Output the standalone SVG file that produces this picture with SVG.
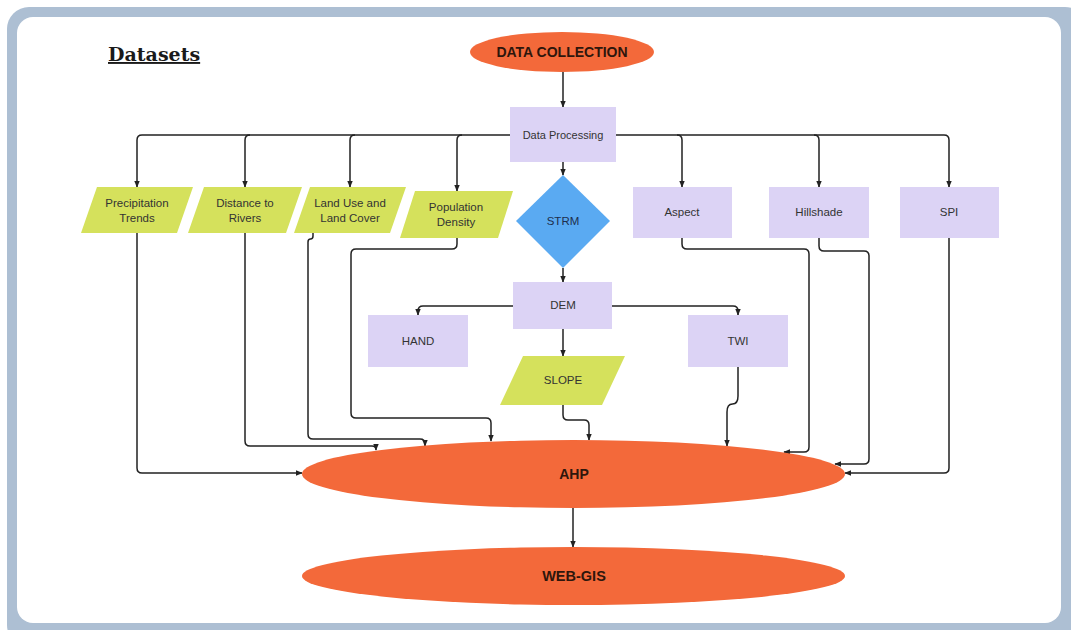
<svg xmlns="http://www.w3.org/2000/svg" width="1071" height="630" viewBox="0 0 1071 630">
<style>
.oval{fill:#f3693a}
.box{fill:#dcd3f5}
.para{fill:#d5e15c}
.t{font-family:"Liberation Sans",Arial,sans-serif;font-size:11.5px;fill:#333;text-anchor:middle;dominant-baseline:central}
.tb{font-family:"Liberation Sans",Arial,sans-serif;font-weight:bold;font-size:14px;fill:#2e160c;text-anchor:middle;dominant-baseline:central}
.c{fill:none;stroke:#222;stroke-width:1.5}
</style>
<defs>
<marker id="ah" viewBox="0 0 10 10" refX="9" refY="5" markerWidth="7" markerHeight="7" markerUnits="userSpaceOnUse" orient="auto">
<path d="M0,1 L10,5 L0,9 z" fill="#222"/>
</marker>
</defs>
<rect x="0" y="0" width="1071" height="630" fill="#ffffff"/>
<rect x="7" y="7" width="1080" height="640" rx="22" fill="#adbfd3"/>
<rect x="17" y="17" width="1044" height="606" rx="16" fill="#ffffff"/>
<text x="108" y="61" font-family="DejaVu Serif,serif" font-weight="bold" font-size="19" fill="#1a1a1a" text-decoration="underline">Datasets</text>

<g id="connectors">
<path class="c" marker-end="url(#ah)" d="M563,72 V107"/>
<path class="c" marker-end="url(#ah)" d="M510,135 H142 Q137,135 137,140 V187"/>
<path class="c" marker-end="url(#ah)" d="M250,135 Q245,135 245,140 V187"/>
<path class="c" marker-end="url(#ah)" d="M355,135 Q350,135 350,140 V187"/>
<path class="c" marker-end="url(#ah)" d="M462,135 Q457,135 457,140 V191"/>
<path class="c" marker-end="url(#ah)" d="M616,135 H944 Q949,135 949,140 V187"/>
<path class="c" marker-end="url(#ah)" d="M677,135 Q682,135 682,140 V187"/>
<path class="c" marker-end="url(#ah)" d="M814,135 Q819,135 819,140 V187"/>
<path class="c" marker-end="url(#ah)" d="M563,162 V175"/>
<path class="c" marker-end="url(#ah)" d="M563,268 V282"/>
<path class="c" marker-end="url(#ah)" d="M513,306 H423 Q418,306 418,311 V315"/>
<path class="c" marker-end="url(#ah)" d="M612,306 H733 Q738,306 738,311 V315"/>
<path class="c" marker-end="url(#ah)" d="M563,329 V356"/>
<path class="c" marker-end="url(#ah)" d="M137,233 V468 Q137,473 142,473 H302"/>
<path class="c" marker-end="url(#ah)" d="M245,233 V441 Q245,446 250,446 H372 Q376,446 376,450"/>
<path class="c" marker-end="url(#ah)" d="M313,233 V236 Q313,239 310.5,239 Q308,239 308,242 V434 Q308,439 313,439 H420 Q425,439 425,444 V446"/>
<path class="c" marker-end="url(#ah)" d="M457,238 V244 Q457,249 452,249 H356 Q351,249 351,254 V413 Q351,418 356,418 H486 Q491,418 491,423 V441"/>
<path class="c" marker-end="url(#ah)" d="M563,405 V415 Q563,420 568,420 H584 Q589,420 589,425 V440"/>
<path class="c" marker-end="url(#ah)" d="M738,367 V396 Q738,404 732.5,404 Q727,404 727,412 V446"/>
<path class="c" marker-end="url(#ah)" d="M682,238 V244 Q682,249 687,249 H804 Q809,249 809,254 V447 Q809,452 804,452 H784"/>
<path class="c" marker-end="url(#ah)" d="M819,238 V246 Q819,251 824,251 H864 Q869,251 869,256 V459 Q869,464 864,464 H835"/>
<path class="c" marker-end="url(#ah)" d="M949,238 V468 Q949,473 944,473 H845"/>
<path class="c" marker-end="url(#ah)" d="M573,508 V547"/>
</g>

<g id="data-collection">
<ellipse class="oval" cx="562" cy="52" rx="92" ry="20"/>
<text class="tb" x="562" y="52">DATA COLLECTION</text>
</g>
<g id="data-processing">
<rect class="box" x="510" y="107" width="106" height="55"/>
<text class="t" x="563" y="135" style="font-size:11px">Data Processing</text>
</g>
<g id="precipitation">
<polygon class="para" points="97,187 193,187 177,233 81,233"/>
<text class="t" x="137" y="203">Precipitation</text>
<text class="t" x="137" y="218">Trends</text>
</g>
<g id="distance">
<polygon class="para" points="204,187 302,187 286,233 188,233"/>
<text class="t" x="245" y="203">Distance to</text>
<text class="t" x="245" y="218">Rivers</text>
</g>
<g id="landuse">
<polygon class="para" points="310,187 406,187 390,233 294,233"/>
<text class="t" x="350" y="203">Land Use and</text>
<text class="t" x="350" y="218">Land Cover</text>
</g>
<g id="population">
<polygon class="para" points="415,191 513,191 498,238 400,238"/>
<text class="t" x="456" y="207">Population</text>
<text class="t" x="456" y="222">Density</text>
</g>
<g id="strm">
<polygon points="563,175 610,221 563,268 516,221" fill="#5aaaf2"/>
<text class="t" x="563" y="221" style="fill:#1e2f4d">STRM</text>
</g>
<g id="aspect">
<rect class="box" x="633" y="187" width="99" height="51"/>
<text class="t" x="682" y="212">Aspect</text>
</g>
<g id="hillshade">
<rect class="box" x="769" y="187" width="100" height="51"/>
<text class="t" x="819" y="212">Hillshade</text>
</g>
<g id="spi">
<rect class="box" x="900" y="187" width="99" height="51"/>
<text class="t" x="949" y="212">SPI</text>
</g>
<g id="dem">
<rect class="box" x="513" y="282" width="99" height="47"/>
<text class="t" x="563" y="305">DEM</text>
</g>
<g id="hand">
<rect class="box" x="368" y="315" width="100" height="52"/>
<text class="t" x="418" y="341">HAND</text>
</g>
<g id="twi">
<rect class="box" x="688" y="315" width="100" height="52"/>
<text class="t" x="738" y="341">TWI</text>
</g>
<g id="slope">
<polygon class="para" points="523,356 625,356 602,405 500,405"/>
<text class="t" x="563" y="380">SLOPE</text>
</g>
<g id="ahp">
<ellipse class="oval" cx="573.5" cy="474" rx="271.5" ry="34"/>
<text class="tb" x="574" y="474">AHP</text>
</g>
<g id="webgis">
<ellipse class="oval" cx="573.5" cy="576" rx="271.5" ry="29"/>
<text class="tb" x="574" y="576" style="font-size:14.5px">WEB-GIS</text>
</g>
</svg>
